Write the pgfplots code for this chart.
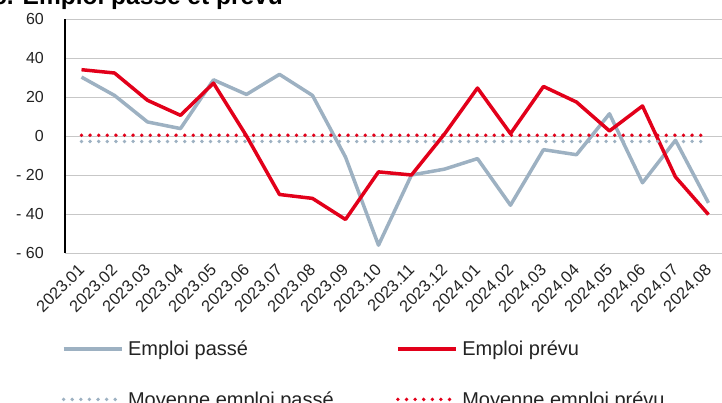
\documentclass[border=0pt]{standalone}
\usepackage{pgfplots}
\pgfplotsset{compat=1.18}
\usepackage{fontspec}
\setmainfont{Liberation Sans}
\definecolor{passe}{RGB}{157,177,194}
\definecolor{prevu}{RGB}{226,0,26}
\definecolor{txt}{RGB}{35,35,35}
\begin{document}
\begin{tikzpicture}
\useasboundingbox (0pt,0pt) rectangle (722pt,403pt);
\clip (0pt,0pt) rectangle (722pt,403pt);
\begin{axis}[
  at={(65pt,150pt)}, anchor=south west,
  width=657pt, height=234pt, scale only axis,
  xmin=-0.5, xmax=19.41, ymin=-60, ymax=60,
  axis lines*=left,
  axis line style={-},
  x axis line style={draw=none},
  y axis line style={black, line width=1.3pt},
  ytick={-60,-40,-20,0,20,40,60},
  yticklabels={- 60,- 40,- 20,0,20,40,60},
  xtick={0,...,19},
  xticklabels={2023.01,2023.02,2023.03,2023.04,2023.05,2023.06,2023.07,2023.08,2023.09,2023.10,2023.11,2023.12,2024.01,2024.02,2024.03,2024.04,2024.05,2024.06,2024.07,2024.08},
  major tick length=0pt,
  tick style={draw=none},
  ymajorgrids,
  grid style={black!22, line width=0.9pt},
  yticklabel style={font=\fontsize{16}{19}\selectfont, text=txt, inner sep=0pt, anchor=east, xshift=-21pt},
  xticklabel style={font=\fontsize{16.5}{19}\selectfont, text=txt, inner sep=0pt, rotate=45, anchor=east},
  xticklabel shift=14pt,
  clip=false,
  legend columns=2,
  legend style={draw=none, fill=none, inner sep=0pt, outer sep=0pt,
    at={(-0.005,-0.372)}, anchor=north west,
    font=\fontsize{20}{23}\selectfont, text=txt,
    nodes={inner sep=1pt},
    /tikz/every odd column/.append style={column sep=3.5pt},
    /tikz/every even column/.append style={column sep=0pt},
    /tikz/row sep=32pt},
  legend cell align=left,
  legend image code/.code={\draw[#1] (0pt,0pt) -- (58pt,0pt);},
]
\addplot[passe, line width=3.5pt, line join=round] coordinates {
(0,30.2) (1,20.8) (2,7.2) (3,3.8) (4,28.8) (5,21.3) (6,31.6) (7,20.8) (8,-10.8) (9,-56)
(10,-20) (11,-17) (12,-11.6) (13,-35.5) (14,-7) (15,-9.6) (16,11.4) (17,-24) (18,-2.2) (19,-34.3)};
\addlegendentry{\makebox[267pt][l]{Emploi passé}}
\addplot[prevu, line width=3.5pt, line join=round] coordinates {
(0,34) (1,32.3) (2,18.3) (3,10.6) (4,27.1) (5,0) (6,-30) (7,-32) (8,-42.8) (9,-18.4)
(10,-20) (11,1) (12,24.6) (13,1.2) (14,25.4) (15,17.4) (16,2.6) (17,15.4) (18,-21) (19,-40.3)};
\addlegendentry{Emploi prévu}
\addplot[passe, line width=3.8pt, line cap=round, dash pattern=on 0pt off 8.6pt] coordinates {
(0,-2.8) (1,-2.8) (2,-2.8) (3,-2.8) (4,-2.8) (5,-2.8) (6,-2.8) (7,-2.8) (8,-2.8) (9,-2.8)
(10,-2.8) (11,-2.8) (12,-2.8) (13,-2.8) (14,-2.8) (15,-2.8) (16,-2.8) (17,-2.8) (18,-2.8) (19,-2.8)};
\addlegendentry{\makebox[267pt][l]{Moyenne emploi passé}}
\addplot[prevu, line width=3.8pt, line cap=round, dash pattern=on 0pt off 8.6pt] coordinates {
(0,0.4) (1,0.4) (2,0.4) (3,0.4) (4,0.4) (5,0.4) (6,0.4) (7,0.4) (8,0.4) (9,0.4)
(10,0.4) (11,0.4) (12,0.4) (13,0.4) (14,0.4) (15,0.4) (16,0.4) (17,0.4) (18,0.4) (19,0.4)};
\addlegendentry{Moyenne emploi prévu}
\end{axis}
\node[anchor=base east, inner sep=0pt, font=\bfseries\fontsize{24.5}{28}\selectfont, text=black] at (283pt,398.5pt) {c. Emploi passé et prévu};
\end{tikzpicture}
\end{document}
